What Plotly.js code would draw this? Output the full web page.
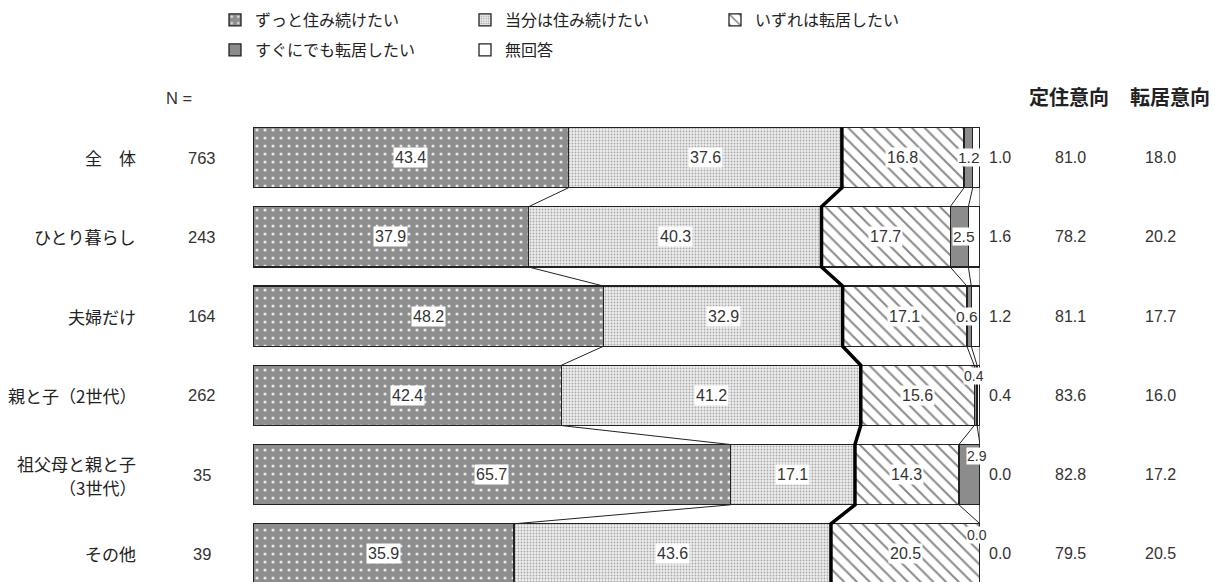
<!DOCTYPE html>
<html><head><meta charset="utf-8">
<script src="https://cdn.plot.ly/plotly-3.0.1.min.js"></script>
<style>body{margin:0;background:#fff}</style>
</head><body><div id="chart" style="width:1215px;height:582px"></div>
<script>
// ---- data ----
const categories = ['全　体', 'ひとり暮らし', '夫婦だけ', '親と子（2世代）', '祖父母と親と子<br>（3世代）', 'その他'];
const nValues = [763, 243, 164, 262, 35, 39];
const seriesNames = ['ずっと住み続けたい', '当分は住み続けたい', 'いずれは転居したい', 'すぐにでも転居したい', '無回答'];
const stayForever = [43.4, 37.9, 48.2, 42.4, 65.7, 35.9];
const stayForNow = [37.6, 40.3, 32.9, 41.2, 17.1, 43.6];
const moveEventually = [16.8, 17.7, 17.1, 15.6, 14.3, 20.5];
const moveSoon = [1.2, 2.5, 0.6, 0.4, 2.9, 0.0];
const noAnswer = [1.0, 1.6, 1.2, 0.4, 0.0, 0.0];
const settleIntent = [81.0, 78.2, 81.1, 83.6, 82.8, 79.5];
const moveIntent = [18.0, 20.2, 17.7, 16.0, 17.2, 20.5];
const headerN = 'N =';
const headerSettle = '定住意向';
const headerMove = '転居意向';

// ---- styling ----
const FONT = '"Noto Sans CJK JP", "Noto Sans", sans-serif';
const NUMFONT = '"Liberation Sans", Arial, sans-serif';
const TXT = '#333333';
const series = [stayForever, stayForNow, moveEventually, moveSoon, noAnswer];
const markerStyles = [
  {color: '#8e8e8e', pattern: {shape: '.', fgcolor: '#e8e8e8', bgcolor: '#8e8e8e', size: 8, solidity: 0.12}},
  {color: '#e6e6e6', pattern: {shape: '.', fgcolor: '#a8a8a8', bgcolor: '#eeeeee', size: 3, solidity: 0.3}},
  {color: '#ffffff', pattern: {shape: '\\', fgcolor: '#8a8a8a', bgcolor: '#ffffff', size: 9, solidity: 0.22}},
  {color: '#8c8c8c'},
  {color: '#ffffff'}
];
const rows = categories.map((_, i) => i);
const half = 0.38; // half bar thickness in row units
const smallLabelAbove = [false, false, false, true, true, true];

// cumulative boundaries
const cum = rows.map(i => {
  let s = 0; const out = [0];
  series.forEach(arr => { s += arr[i]; out.push(+s.toFixed(2)); });
  return out;
});

const traces = series.map((vals, k) => ({
  type: 'bar', orientation: 'h', x: vals, y: rows, name: seriesNames[k],
  marker: Object.assign({}, markerStyles[k], {line: {color: '#222222', width: 1.3}}),
  legend: k < 3 ? 'legend' : 'legend2',
  hoverinfo: 'skip'
}));

// thin connector lines between bars (boundaries after series 1, 3, 4 and the right end)
const cx = [], cy = [];
[1, 3, 4, 5].forEach(b => {
  for (let i = 0; i < rows.length - 1; i++) {
    cx.push(cum[i][b], cum[i + 1][b], null);
    cy.push(i + half, i + 1 - half, null);
  }
});
traces.push({type: 'scatter', mode: 'lines', x: cx, y: cy, line: {color: '#222222', width: 1},
  showlegend: false, hoverinfo: 'skip'});

// thick line at the 定住/転居 boundary
const tx = [], ty = [];
rows.forEach(i => { tx.push(settleIntent[i], settleIntent[i]); ty.push(i - half, i + half); });
traces.push({type: 'scatter', mode: 'lines', x: tx, y: ty, line: {color: '#000000', width: 3.5},
  showlegend: false, hoverinfo: 'skip'});

const ann = [];
const pxX = p => (p - 253) / 727;
const pxY = p => (582 - p) / 464;
const numFont = (s) => ({size: s, color: TXT, family: NUMFONT});
const LINE_GAP = 24;
rows.forEach(i => {
  // inside labels series 1-3
  for (let k = 0; k < 3; k++) {
    ann.push({x: cum[i][k] + series[k][i] / 2, y: i, xref: 'x', yref: 'y', text: series[k][i].toFixed(1),
      xanchor: 'center', yanchor: 'middle',
      showarrow: false, bgcolor: '#ffffff', borderpad: 1, font: numFont(16)});
  }
  // series 4 label
  const above = smallLabelAbove[i];
  ann.push({x: cum[i][4], y: above ? i - half : i, xref: 'x', yref: 'y', text: moveSoon[i].toFixed(1),
    showarrow: false, xanchor: 'center', xshift: above ? -3 : -4,
    yanchor: above ? 'top' : 'middle', yshift: above ? -2 : 0,
    bgcolor: '#ffffff', borderpad: 0,
    font: numFont(above ? 14 : 15.5)});
  // right columns
  ann.push({x: pxX(1000), y: i, xref: 'paper', yref: 'y', text: noAnswer[i].toFixed(1), showarrow: false,
    xanchor: 'center', yanchor: 'middle', font: numFont(16)});
  ann.push({x: pxX(1070), y: i, xref: 'paper', yref: 'y', text: settleIntent[i].toFixed(1), showarrow: false,
    xanchor: 'center', yanchor: 'middle', font: numFont(16)});
  ann.push({x: pxX(1160), y: i, xref: 'paper', yref: 'y', text: moveIntent[i].toFixed(1), showarrow: false,
    xanchor: 'center', yanchor: 'middle', font: numFont(16)});
  ann.push({x: pxX(202), y: i, xref: 'paper', yref: 'y', text: String(nValues[i]), showarrow: false,
    xanchor: 'center', yanchor: 'middle', font: numFont(16.5)});
  // category labels (one annotation per line)
  const lines = categories[i].split('<br>');
  lines.forEach((ln, j) => {
    ann.push({x: pxX(138), y: i, xref: 'paper', yref: 'y', text: ln, showarrow: false,
      xanchor: 'right', yanchor: 'middle', align: 'right',
      yshift: ((lines.length - 1) / 2 - j) * LINE_GAP - (lines.length > 1 ? 1 : 0),
      font: {size: 17, color: '#222222', family: FONT}});
  });
});
ann.push({x: pxX(179), y: pxY(98), xref: 'paper', yref: 'paper', text: headerN, showarrow: false,
  xanchor: 'center', yanchor: 'middle', font: numFont(16.5)});
ann.push({x: pxX(1069), y: pxY(96), xref: 'paper', yref: 'paper', text: headerSettle, showarrow: false,
  xanchor: 'center', yanchor: 'middle', font: {size: 20, color: '#222', family: FONT, weight: 'bold'}});
ann.push({x: pxX(1170), y: pxY(96), xref: 'paper', yref: 'paper', text: headerMove, showarrow: false,
  xanchor: 'center', yanchor: 'middle', font: {size: 20, color: '#222', family: FONT, weight: 'bold'}});

const legendBase = {orientation: 'h', xanchor: 'left', yanchor: 'top', traceorder: 'normal',
  font: {size: 16, color: '#222222', family: FONT},
  bgcolor: 'rgba(0,0,0,0)', entrywidth: 205, itemclick: false, itemdoubleclick: false};

const layout = {
  width: 1215, height: 582,
  margin: {l: 253, r: 235, t: 118, b: 0},
  paper_bgcolor: '#ffffff', plot_bgcolor: '#ffffff',
  barmode: 'stack', bargap: 0.24,
  showlegend: true,
  legend: Object.assign({}, legendBase, {x: pxX(215), y: pxY(3)}),
  legend2: Object.assign({}, legendBase, {x: pxX(215), y: pxY(33)}),
  xaxis: {range: [0, 100], visible: false, fixedrange: true},
  yaxis: {range: [5.354, -0.5], visible: false, fixedrange: true},
  annotations: ann,
  font: {family: FONT}
};
Plotly.newPlot('chart', traces, layout, {displayModeBar: false, staticPlot: true});
</script></body></html>
